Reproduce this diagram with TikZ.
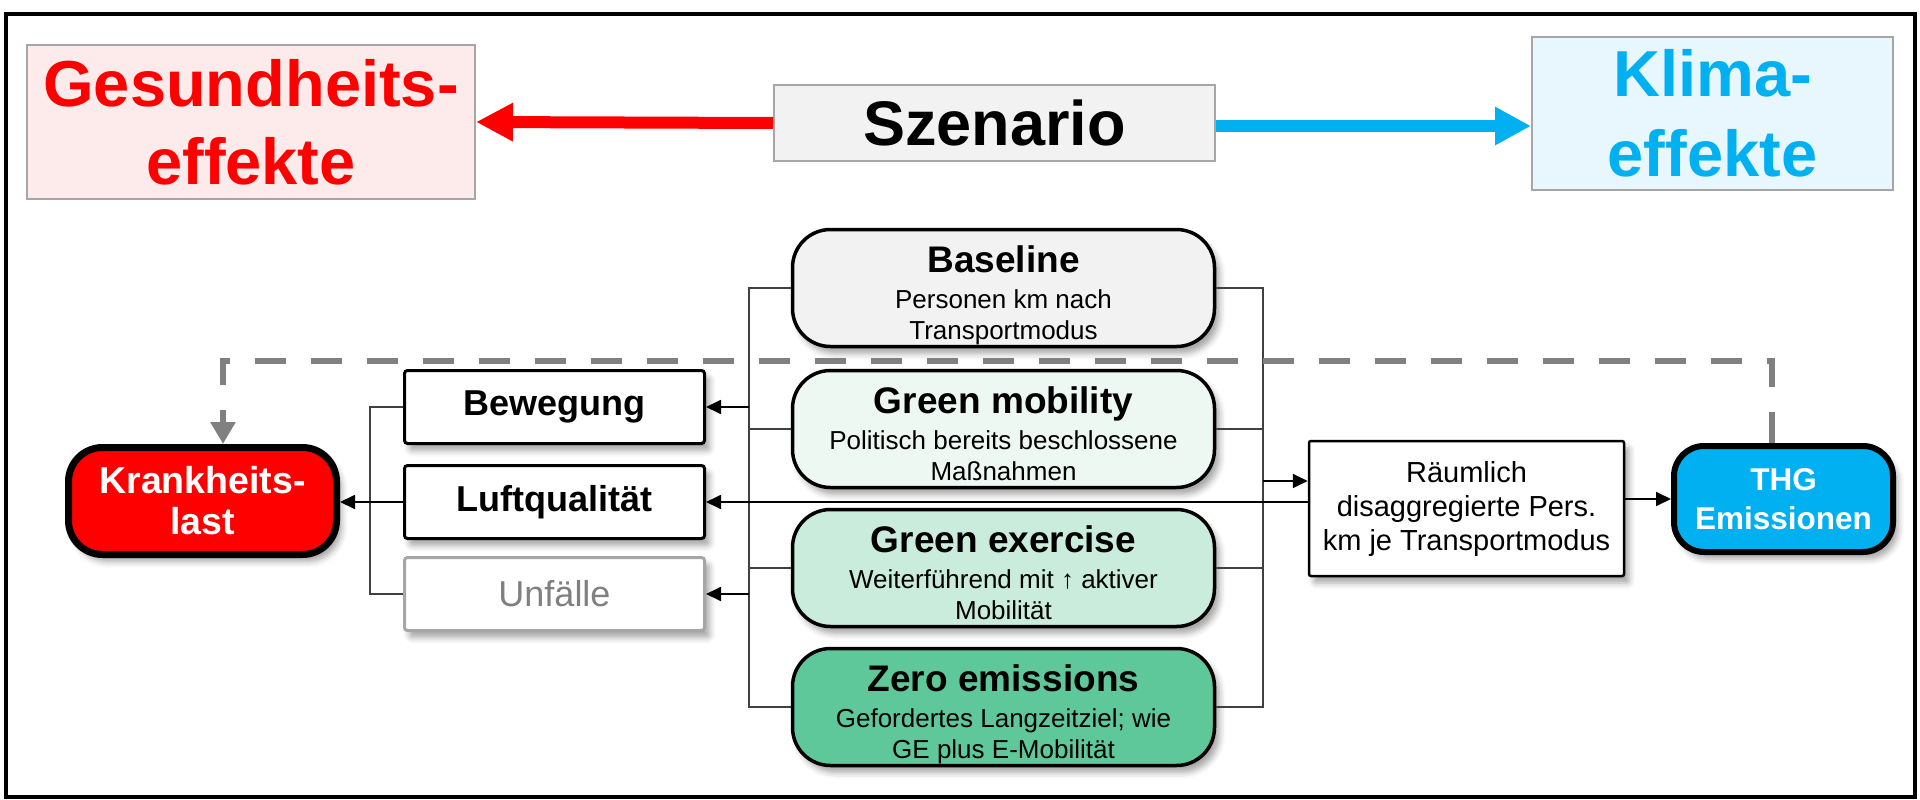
\documentclass[tikz,border=0pt]{standalone}
\usepackage{fontspec}
\setmainfont{Liberation Sans}
\usetikzlibrary{arrows.meta,shadows.blur}
\definecolor{boxgray}{RGB}{166,166,166}
\definecolor{gesfill}{RGB}{253,234,234}
\definecolor{klimafill}{RGB}{232,246,253}
\definecolor{klimablue}{RGB}{0,176,240}
\definecolor{szenfill}{RGB}{242,242,242}
\definecolor{gmfill}{RGB}{238,248,243}
\definecolor{gefill}{RGB}{201,236,220}
\definecolor{zefill}{RGB}{94,200,155}
\definecolor{dashgray}{RGB}{128,128,128}
\definecolor{unfgray}{RGB}{128,128,128}
\newcommand\scentext[2]{{\fontsize{37}{40}\selectfont\bfseries\rule{0pt}{42pt}#1}\\[5pt]#2\rule[-6pt]{0pt}{6pt}}
\tikzset{
  topbox/.style={draw=boxgray, line width=2pt, inner sep=0pt, align=center},
  shad/.style={blur shadow={shadow xshift=5pt, shadow yshift=-7pt, shadow blur radius=6pt, shadow opacity=35}},
  scenbox/.style={draw=black, line width=3.5pt, rounded corners=38pt, minimum width=422pt, minimum height=117pt,
     inner sep=0pt, align=center, font=\fontsize{26}{31}\selectfont, shad},
  effbox/.style={draw=black, line width=3pt, rounded corners=3pt, fill=white, minimum width=300pt, minimum height=73pt,
     inner sep=0pt, font=\fontsize{36}{40}\selectfont\bfseries, shad},
  endbox/.style={draw=black, rounded corners=34pt, inner sep=0pt, align=center, text=white, shad},
  conn/.style={draw=black!75, line width=1.5pt},
  arr/.style={draw=black, line width=1.8pt, -{Triangle[length=15pt,width=14pt]}},
  dashline/.style={draw=dashgray, line width=6pt, dash pattern=on 31pt off 25pt, -{Triangle[length=22pt,width=24pt]}},
}
\begin{document}
\begin{tikzpicture}[x=1pt,y=-1pt]
\useasboundingbox (0,0) rectangle (1920,800);
\draw[line width=4pt] (6,14) rectangle (1915,797);

% top row
\node[topbox, fill=gesfill, minimum width=448pt, minimum height=154pt, text=red,
      font=\fontsize{65}{78}\selectfont\bfseries] (ges) at (251,122) {Gesundheits-\\effekte};
\node[topbox, fill=szenfill, minimum width=441pt, minimum height=76pt,
      font=\fontsize{63}{70}\selectfont\bfseries] (szen) at (994.5,123) {Szenario};
\node[topbox, fill=klimafill, minimum width=361pt, minimum height=153pt, text=klimablue,
      font=\fontsize{65}{80}\selectfont\bfseries] (klima) at (1712.5,113.5) {Klima-\\effekte};
\draw[red, line width=12pt, -{Triangle[length=37pt,width=36pt]}] (szen.west) -- (ges.east);
\draw[klimablue, line width=12pt, -{Triangle[length=36pt,width=36pt]}] ([yshift=-3pt]szen.east) -- ([yshift=-3pt]szen.east -| klima.west);

% scenario boxes
\node[scenbox, fill=szenfill] (base) at (1003.5,288) {\scentext{Baseline}{Personen km nach\\Transportmodus}};
\node[scenbox, fill=gmfill] (gm) at (1003.5,429) {\scentext{Green mobility}{Politisch bereits beschlossene\\Maßnahmen}};
\node[scenbox, fill=gefill] (ge) at (1003.5,568) {\scentext{Green exercise}{Weiterführend mit ↑ aktiver\\Mobilität}};
\node[scenbox, fill=zefill] (ze) at (1003.5,707) {\scentext{Zero emissions}{Gefordertes Langzeitziel; wie\\GE plus E-Mobilität}};

% effect boxes
\node[effbox] (bew) at (554.5,407) {Bewegung};
\node[effbox] (luft) at (554.5,502) {Luftqualität};
\node[effbox, draw=boxgray, text=unfgray, font=\fontsize{36}{40}\selectfont] (unf) at (554.5,594) {Unfälle};

% end boxes
\node[endbox, fill=red, line width=7pt, minimum width=268pt, minimum height=107pt,
      font=\fontsize{37.5}{41}\selectfont\bfseries] (krank) at (202.5,501) {Krankheits-\\last};
\node[endbox, fill=klimablue, line width=6pt, rounded corners=30pt, minimum width=219pt, minimum height=106pt,
      font=\fontsize{31.5}{39}\selectfont\bfseries] (thg) at (1783.5,499) {THG\\Emissionen};
\node[draw=black, line width=2.5pt, rounded corners=2pt, fill=white, minimum width=315pt, minimum height=135pt,
      inner sep=0pt, align=center, font=\fontsize{29}{34}\selectfont, shad] (raum) at (1466.5,508.5)
      {Räumlich\\disaggregierte Pers.\\km je Transportmodus};

% bus lines
\coordinate (sl) at (749,0);
\coordinate (sr) at (1263,0);
\coordinate (rin) at (1263,481);
\draw[conn] (base.west) -| (sl |- ze.west) -- (ze.west);
\draw[conn] (gm.west) -- (gm.west -| sl);
\draw[conn] (ge.west) -- (ge.west -| sl);
\draw[conn] (base.east) -| (sr |- ze.east) -- (ze.east);
\draw[conn] (gm.east) -- (gm.east -| sr);
\draw[conn] (ge.east) -- (ge.east -| sr);
\draw[conn] (bew.west) -| ([xshift=-33pt]unf.west) -- (unf.west);

% arrows
\draw[arr] (sl |- bew.east) -- (bew.east);
\draw[arr] (sl |- unf.east) -- (unf.east);
\draw[arr] (raum.west |- luft.east) -- (luft.east);
\draw[arr] (luft.west) -- (luft.west -| krank.east);
\draw[arr] (rin) -- (rin -| raum.west);
\draw[arr] (raum.east |- thg.west) -- (thg.west);

% dashed feedback
\draw[dashline] ([xshift=-11.5pt]thg.north) -- ++(0,-82) -| ([xshift=20.5pt]krank.north);
\end{tikzpicture}
\end{document}
